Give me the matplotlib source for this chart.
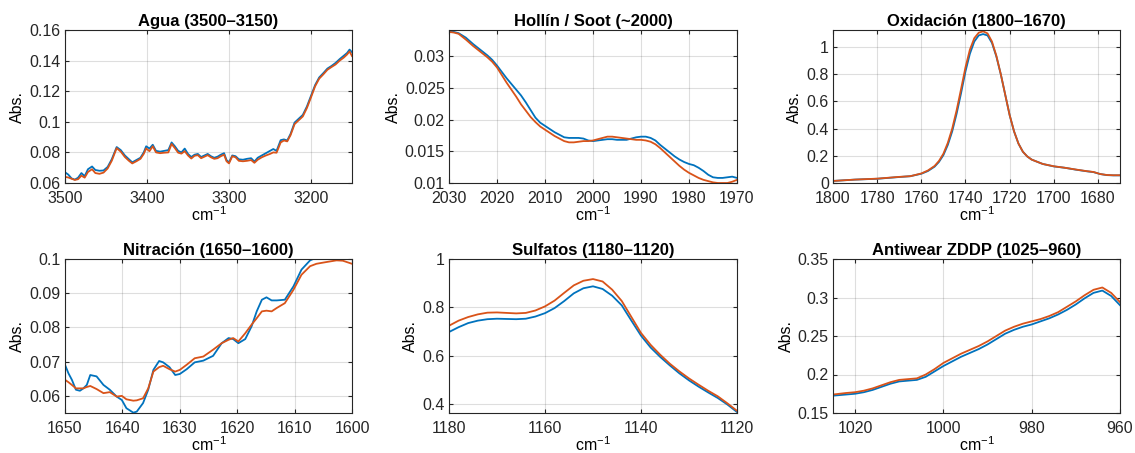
import numpy as np
import matplotlib
matplotlib.use('Agg')
import matplotlib.pyplot as plt

plt.rcParams.update({
    'font.family': ['Liberation Sans', 'DejaVu Sans'],
    'font.size': 9,
    'axes.edgecolor': '#262626',
    'axes.linewidth': 0.8,
    'xtick.color': '#262626',
    'ytick.color': '#262626',
})

AZUL = '#0072BD'
NARANJA = '#D95319'

# --- Agua (3500-3150) ---
agua_x = [3500, 3496, 3492, 3488, 3484, 3480, 3476, 3472, 3467, 3463, 3458, 3453,
          3448, 3443, 3437, 3432, 3427, 3422, 3418, 3413, 3408, 3404, 3401, 3397,
          3393, 3389, 3384, 3379, 3374, 3370, 3366, 3362, 3358, 3354, 3350, 3346,
          3342, 3338, 3334, 3330, 3326, 3322, 3318, 3314, 3310, 3306, 3303, 3300,
          3296, 3292, 3288, 3283, 3278, 3273, 3269, 3265, 3260, 3255, 3250, 3246,
          3242, 3237, 3233, 3229, 3225, 3220, 3215, 3210, 3205, 3200, 3195, 3190,
          3185, 3180, 3175, 3170, 3165, 3160, 3156, 3153, 3150]
agua_a = [0.0670, 0.0655, 0.0630, 0.0622, 0.0635, 0.0665, 0.0645, 0.0690, 0.0708, 0.0685,
          0.0680, 0.0682, 0.0705, 0.0755, 0.0835, 0.0815, 0.0780, 0.0755, 0.0735, 0.0750,
          0.0765, 0.0800, 0.0840, 0.0825, 0.0850, 0.0810, 0.0805, 0.0810, 0.0815, 0.0865,
          0.0840, 0.0810, 0.0800, 0.0825, 0.0790, 0.0770, 0.0785, 0.0790, 0.0770, 0.0780,
          0.0790, 0.0775, 0.0765, 0.0772, 0.0785, 0.0795, 0.0750, 0.0735, 0.0780, 0.0775,
          0.0755, 0.0752, 0.0758, 0.0762, 0.0740, 0.0765, 0.0780, 0.0795, 0.0810, 0.0822,
          0.0810, 0.0880, 0.0885, 0.0878, 0.0920, 0.0995, 0.1020, 0.1045, 0.1100, 0.1170,
          0.1240, 0.1290, 0.1318, 0.1348, 0.1365, 0.1385, 0.1410, 0.1432, 0.1450, 0.1472,
          0.1455]
agua_b = [0.0640, 0.0636, 0.0628, 0.0620, 0.0625, 0.0648, 0.0635, 0.0672, 0.0690, 0.0665,
          0.0660, 0.0668, 0.0695, 0.0745, 0.0828, 0.0805, 0.0770, 0.0745, 0.0728, 0.0742,
          0.0758, 0.0790, 0.0826, 0.0808, 0.0840, 0.0800, 0.0795, 0.0798, 0.0800, 0.0855,
          0.0828, 0.0798, 0.0792, 0.0808, 0.0780, 0.0760, 0.0778, 0.0782, 0.0762, 0.0772,
          0.0782, 0.0768, 0.0758, 0.0762, 0.0775, 0.0785, 0.0742, 0.0728, 0.0775, 0.0768,
          0.0745, 0.0742, 0.0745, 0.0750, 0.0732, 0.0752, 0.0768, 0.0780, 0.0790, 0.0800,
          0.0798, 0.0865, 0.0878, 0.0872, 0.0912, 0.0985, 0.1010, 0.1035, 0.1090, 0.1160,
          0.1232, 0.1282, 0.1310, 0.1340, 0.1358, 0.1375, 0.1400, 0.1420, 0.1440, 0.1460,
          0.1430]

# --- Hollin / Soot (~2000) ---
hollin_x = [2030, 2029, 2028, 2026.5, 2025, 2023.5, 2022, 2021, 2020, 2019, 2018, 2017,
            2016, 2015, 2014, 2013, 2012, 2011, 2010, 2009, 2008, 2007, 2006, 2005, 2004,
            2003, 2002, 2001, 2000, 1999, 1998, 1997, 1996, 1995, 1994, 1993, 1992, 1991,
            1990, 1989, 1988, 1987, 1986, 1985, 1984, 1983, 1982, 1981, 1980, 1979, 1978,
            1977, 1976, 1975, 1974, 1973, 1972, 1971, 1970]
hollin_a = [0.0339, 0.0338, 0.0336, 0.0329, 0.0319, 0.0310, 0.0301, 0.0294, 0.0285, 0.0275,
            0.0265, 0.0256, 0.0247, 0.0238, 0.0227, 0.0215, 0.0203, 0.0195, 0.0190, 0.0185,
            0.0180, 0.0176, 0.0172, 0.0171, 0.0171, 0.0171, 0.0170, 0.0167, 0.0166, 0.0167,
            0.0168, 0.0169, 0.0169, 0.0168, 0.0168, 0.0168, 0.0170, 0.0172, 0.0173, 0.0173,
            0.0171, 0.0167, 0.0160, 0.0154, 0.0148, 0.0142, 0.0137, 0.0133, 0.0130, 0.0128,
            0.0124, 0.0119, 0.0113, 0.0109, 0.0108, 0.0108, 0.0109, 0.0110, 0.0108]
hollin_b = [0.0338, 0.0337, 0.0335, 0.0326, 0.0316, 0.0307, 0.0298, 0.0291, 0.0282, 0.0270,
            0.0258, 0.0247, 0.0236, 0.0224, 0.0214, 0.0204, 0.0196, 0.0189, 0.0184, 0.0179,
            0.0174, 0.0170, 0.0166, 0.0164, 0.0164, 0.0165, 0.0166, 0.0166, 0.0167, 0.0169,
            0.0171, 0.0173, 0.0173, 0.0172, 0.0171, 0.0170, 0.0169, 0.0168, 0.0168, 0.0167,
            0.0165, 0.0161, 0.0155, 0.0148, 0.0141, 0.0134, 0.0127, 0.0121, 0.0116, 0.0112,
            0.0108, 0.0105, 0.0103, 0.0101, 0.0100, 0.0100, 0.0100, 0.0102, 0.0105]

# --- Oxidacion (1800-1670) ---
oxid_x = [1800, 1790, 1780, 1770, 1765, 1760, 1757, 1754, 1752, 1750, 1748, 1746, 1744,
          1742, 1740, 1738, 1736, 1734, 1732, 1730, 1728, 1726, 1724, 1722, 1720, 1718,
          1716, 1714, 1712, 1710, 1705, 1700, 1695, 1690, 1685, 1682, 1679, 1676, 1673, 1670]
oxid_a = [0.015, 0.025, 0.031, 0.044, 0.050, 0.068, 0.088, 0.120, 0.155, 0.205, 0.280, 0.380,
          0.510, 0.660, 0.820, 0.950, 1.040, 1.085, 1.095, 1.085, 1.030, 0.930, 0.800, 0.650,
          0.500, 0.380, 0.290, 0.230, 0.195, 0.172, 0.140, 0.122, 0.112, 0.098, 0.086, 0.080,
          0.066, 0.058, 0.056, 0.056]
oxid_b = [0.015, 0.025, 0.032, 0.045, 0.050, 0.070, 0.092, 0.125, 0.162, 0.215, 0.295, 0.400,
          0.535, 0.690, 0.850, 0.980, 1.065, 1.105, 1.115, 1.100, 1.040, 0.935, 0.800, 0.650,
          0.500, 0.380, 0.290, 0.230, 0.195, 0.172, 0.140, 0.123, 0.112, 0.099, 0.087, 0.081,
          0.066, 0.059, 0.057, 0.057]

# --- Nitracion (1650-1600) ---
nitr_x = [1650, 1649.4, 1648.8, 1648.1, 1647.4, 1646.8, 1646.2, 1645.6, 1644.5, 1643.3,
          1642.2, 1641, 1640.1, 1639.3, 1638.1, 1637.5, 1636.4, 1635.5, 1634.6, 1633.6,
          1632.9, 1631.8, 1630.8, 1630, 1628.8, 1627.4, 1625.9, 1624.2, 1622.7, 1621.5,
          1620.7, 1619.8, 1618.6, 1617.5, 1616.6, 1615.7, 1614.9, 1614, 1613.1, 1611.7,
          1610.2, 1608.8, 1607.3, 1606.2, 1604.5, 1602.7, 1601.6, 1600]
nitr_a = [0.0691, 0.0666, 0.0647, 0.0618, 0.0615, 0.0622, 0.0632, 0.0661, 0.0657, 0.0632,
          0.0618, 0.0598, 0.0588, 0.0564, 0.0551, 0.0554, 0.0579, 0.0618, 0.0676, 0.0702,
          0.0698, 0.0684, 0.0661, 0.0664, 0.0678, 0.0698, 0.0703, 0.0717, 0.0754, 0.0769,
          0.0766, 0.0754, 0.0766, 0.0803, 0.0847, 0.0881, 0.0888, 0.0879, 0.0879, 0.0881,
          0.0920, 0.0969, 0.0996, 0.1004, 0.1008, 0.1010, 0.1008, 0.1004]
nitr_b = [0.0647, 0.0640, 0.0632, 0.0622, 0.0622, 0.0622, 0.0626, 0.0629, 0.0620, 0.0608,
          0.0611, 0.0598, 0.0600, 0.0590, 0.0586, 0.0587, 0.0593, 0.0622, 0.0671, 0.0684,
          0.0688, 0.0678, 0.0671, 0.0676, 0.0691, 0.0710, 0.0715, 0.0735, 0.0754, 0.0764,
          0.0769, 0.0759, 0.0783, 0.0808, 0.0827, 0.0847, 0.0849, 0.0847, 0.0857, 0.0871,
          0.0910, 0.0954, 0.0979, 0.0986, 0.0991, 0.0996, 0.0995, 0.0986]

# --- Sulfatos (1180-1120) ---
sulf_x = [1180, 1178, 1176, 1174, 1172, 1170, 1168, 1166, 1164, 1162, 1160, 1158, 1156,
          1154, 1152, 1150, 1148, 1146, 1144, 1142, 1140, 1138, 1136, 1134, 1132, 1130,
          1128, 1126, 1124, 1122, 1120]
sulf_a = [0.698, 0.718, 0.735, 0.745, 0.751, 0.753, 0.752, 0.751, 0.753, 0.762, 0.776, 0.797,
          0.826, 0.858, 0.879, 0.887, 0.876, 0.848, 0.808, 0.745, 0.683, 0.634, 0.595, 0.560,
          0.527, 0.498, 0.472, 0.448, 0.425, 0.398, 0.367]
sulf_b = [0.724, 0.745, 0.760, 0.771, 0.778, 0.779, 0.777, 0.775, 0.777, 0.787, 0.804, 0.828,
          0.860, 0.891, 0.910, 0.917, 0.907, 0.873, 0.826, 0.760, 0.694, 0.645, 0.604, 0.567,
          0.535, 0.506, 0.480, 0.455, 0.432, 0.403, 0.372]

# --- Antiwear ZDDP (1025-960) ---
zddp_x = [1025, 1022, 1020, 1018, 1016, 1014, 1012, 1010, 1008, 1006, 1004, 1002, 1000,
          998, 996, 994, 992, 990, 988, 986, 984, 982, 980, 978, 976, 974, 972, 970, 968,
          966, 964, 962, 960]
zddp_a = [0.1725, 0.174, 0.175, 0.177, 0.180, 0.184, 0.188, 0.191, 0.192, 0.193, 0.197,
          0.204, 0.211, 0.217, 0.223, 0.228, 0.233, 0.239, 0.246, 0.253, 0.258, 0.262, 0.265,
          0.269, 0.273, 0.278, 0.284, 0.291, 0.299, 0.306, 0.309, 0.302, 0.290]
zddp_b = [0.174, 0.176, 0.177, 0.179, 0.182, 0.186, 0.190, 0.193, 0.194, 0.195, 0.200,
          0.207, 0.215, 0.221, 0.227, 0.232, 0.237, 0.243, 0.250, 0.257, 0.262, 0.266, 0.269,
          0.272, 0.276, 0.281, 0.288, 0.295, 0.303, 0.310, 0.313, 0.306, 0.294]

paneles = [
    ('Agua (3500–3150)', agua_x, agua_a, agua_b, (3500, 3150), (0.06, 0.16),
     [3500, 3400, 3300, 3200], [0.06, 0.08, 0.1, 0.12, 0.14, 0.16],
     ['0.06', '0.08', '0.1', '0.12', '0.14', '0.16']),
    ('Hollín / Soot (~2000)', hollin_x, hollin_a, hollin_b, (2030, 1970), (0.01, 0.0341),
     [2030, 2020, 2010, 2000, 1990, 1980, 1970], [0.01, 0.015, 0.02, 0.025, 0.03],
     ['0.01', '0.015', '0.02', '0.025', '0.03']),
    ('Oxidación (1800–1670)', oxid_x, oxid_a, oxid_b, (1800, 1670), (0, 1.125),
     [1800, 1780, 1760, 1740, 1720, 1700, 1680], [0, 0.2, 0.4, 0.6, 0.8, 1],
     ['0', '0.2', '0.4', '0.6', '0.8', '1']),
    ('Nitración (1650–1600)', nitr_x, nitr_a, nitr_b, (1650, 1600), (0.055, 0.1),
     [1650, 1640, 1630, 1620, 1610, 1600], [0.06, 0.07, 0.08, 0.09, 0.1],
     ['0.06', '0.07', '0.08', '0.09', '0.1']),
    ('Sulfatos (1180–1120)', sulf_x, sulf_a, sulf_b, (1180, 1120), (0.363, 1),
     [1180, 1160, 1140, 1120], [0.4, 0.6, 0.8, 1],
     ['0.4', '0.6', '0.8', '1']),
    ('Antiwear ZDDP (1025–960)', zddp_x, zddp_a, zddp_b, (1025, 960), (0.15, 0.35),
     [1020, 1000, 980, 960], [0.15, 0.2, 0.25, 0.3, 0.35],
     ['0.15', '0.2', '0.25', '0.3', '0.35']),
]

fig = plt.figure(figsize=(11.35, 4.53), dpi=100)

W, H = 1135, 453
lefts = [65, 449, 833]
anchos = [287, 288, 287]
filas = [(30, 183), (259, 413)]

for k, (titulo, x, a, b, xl, yl, xt, yt, ytl) in enumerate(paneles):
    fila, col = divmod(k, 3)
    top, bot = filas[fila]
    ax = fig.add_axes([lefts[col] / W, 1 - bot / H, anchos[col] / W, (bot - top) / H])
    ax.plot(x, a, color=AZUL, linewidth=1.3)
    ax.plot(x, b, color=NARANJA, linewidth=1.3)
    ax.set_xlim(*xl)
    ax.set_ylim(*yl)
    ax.set_xticks(xt)
    ax.set_yticks(yt)
    ax.set_yticklabels(ytl)
    ax.grid(True, color='#262626', alpha=0.15, linewidth=0.8)
    ax.set_axisbelow(True)
    ax.tick_params(direction='in', top=True, right=True, length=3, labelsize=11.5)
    ax.tick_params(axis='x', pad=6)
    ax.tick_params(axis='y', pad=3)
    ax.set_title(titulo, fontsize=12, fontweight='bold', pad=3)
    ax.set_xlabel('cm$^{\\mathregular{-1}}$', fontsize=11.5, labelpad=-1)
    ax.set_ylabel('Abs.', fontsize=11.5, labelpad=3)

plt.savefig('out.png', dpi=100)
